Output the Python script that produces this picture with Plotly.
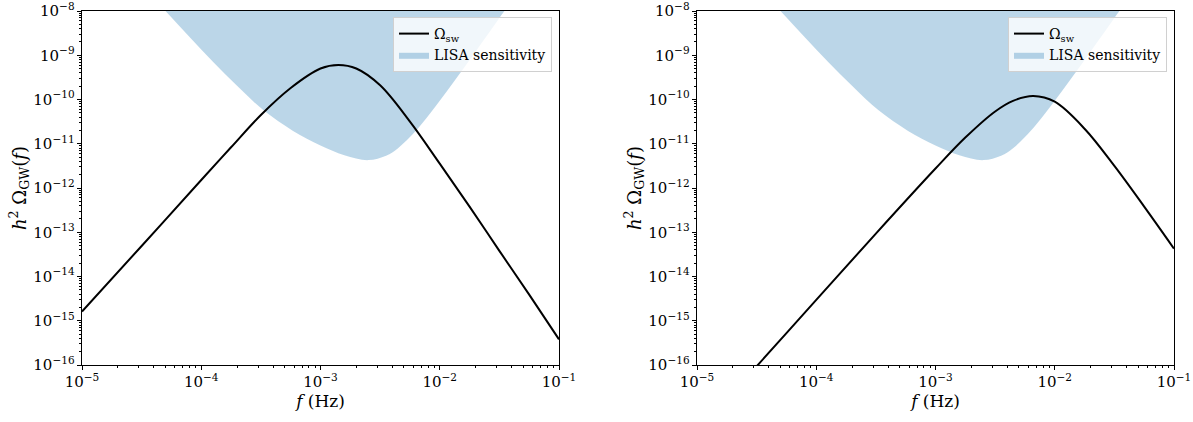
import plotly.graph_objects as go

# ---- data (log10 values) ----
left_logf = [-5.0, -4.5, -4.0, -3.75, -3.5, -3.25, -3.0, -2.85, -2.7, -2.5, -2.25, -2.0, -1.75, -1.5, -1.25, -1.0]
left_logomega = [-14.79, -13.31, -11.82, -11.08, -10.35, -9.74, -9.30, -9.22, -9.30, -9.68, -10.50, -11.45, -12.42, -13.42, -14.41, -15.42]

right_logf = [-5.0, -4.5, -4.0, -3.5, -3.0, -2.75, -2.5, -2.35, -2.18, -2.0, -1.75, -1.5, -1.25, -1.0]
right_logomega = [-17.53, -16.03, -14.53, -13.03, -11.56, -10.86, -10.27, -10.03, -9.92, -10.05, -10.66, -11.50, -12.42, -13.37]

lisa_logf = [-4.47, -4.30, -4.10, -3.90, -3.70, -3.48, -3.23, -3.00, -2.80, -2.60, -2.45, -2.35, -2.25, -2.15, -2.00, -1.85, -1.70, -1.55, -1.45, -1.32]
lisa_logomega = [-7.50, -8.00, -8.58, -9.15, -9.69, -10.24, -10.71, -11.04, -11.26, -11.37, -11.27, -11.10, -10.85, -10.55, -10.03, -9.48, -8.92, -8.35, -7.97, -7.48]

x_range_log = [-5, -1]
y_range_log = [-16, -8]

curve_label = "Ω<sub>sw</sub>"
lisa_label = "LISA sensitivity"
x_title = "<i>f</i> (Hz)"
y_title = "<i>h</i><sup>2</sup> Ω<sub>GW</sub>(<i>f</i>)"

def pw(v):
    return [10 ** a for a in v]

FONT = "DejaVu Serif"
W, H = 1193, 422

fig = go.Figure()

panels = [
    (left_logf, left_logomega, "x", "y", "legend"),
    (right_logf, right_logomega, "x2", "y2", "legend2"),
]
for lf, lo, xa, ya, lg in panels:
    fig.add_trace(go.Scatter(
        x=pw(lisa_logf), y=pw(lisa_logomega), xaxis=xa, yaxis=ya,
        mode="lines", fill="toself", fillcolor="rgba(31,119,180,0.3)",
        line=dict(width=0, shape="spline", smoothing=1, color="rgba(31,119,180,0.3)"),
        name=lisa_label, legend=lg, legendrank=2, hoverinfo="skip"))
    fig.add_trace(go.Scatter(
        x=pw(lf), y=pw(lo), xaxis=xa, yaxis=ya,
        mode="lines", line=dict(color="black", width=2, shape="spline", smoothing=1),
        name=curve_label, legend=lg, legendrank=1))

def px_dom_x(a, b):
    return [a / W, b / W]

ydom = [1 - 365 / H, 1 - 11 / H]

axis_common = dict(
    type="log", dtick=1, exponentformat="power", showexponent="all",
    showgrid=False, zeroline=False, showline=True, linecolor="black", linewidth=1,
    mirror=True, ticks="outside", ticklen=4, tickwidth=1, tickcolor="black",
    minor=dict(ticks="outside", ticklen=2, tickwidth=0.8, tickcolor="black", dtick="D1", showgrid=False),
    tickfont=dict(family=FONT, size=12, color="black"),
    ticklabeloverflow="allow",
    automargin=False,
)

legend_common = dict(
    xanchor="right", yanchor="top",
    bgcolor="rgba(255,255,255,0.8)", bordercolor="#d0d0d0", borderwidth=1,
    font=dict(family=FONT, size=14), itemwidth=30, tracegroupgap=0,
)

fig.update_layout(
    width=W, height=H,
    margin=dict(l=0, r=0, t=0, b=0),
    paper_bgcolor="white", plot_bgcolor="white",
    font=dict(family=FONT, color="black"),
    xaxis=dict(domain=px_dom_x(82, 559), range=x_range_log, anchor="y",
               title=dict(text=x_title, font=dict(family=FONT, size=17), standoff=4), **axis_common),
    yaxis=dict(domain=ydom, range=y_range_log, anchor="x",
               title=dict(text=y_title, font=dict(family=FONT, size=18), standoff=2), **axis_common),
    xaxis2=dict(domain=px_dom_x(697, 1174), range=x_range_log, anchor="y2",
                title=dict(text=x_title, font=dict(family=FONT, size=17), standoff=4), **axis_common),
    yaxis2=dict(domain=ydom, range=y_range_log, anchor="x2",
                title=dict(text=y_title, font=dict(family=FONT, size=18), standoff=2), **axis_common),
    legend=dict(x=552 / W, y=1 - 17 / H, **legend_common),
    legend2=dict(x=1167 / W, y=1 - 17 / H, **legend_common),
    showlegend=True,
)

fig.write_html("out.html", config={"displayModeBar": False},
               post_script="document.body.style.margin='0px';document.body.style.overflow='hidden';")
